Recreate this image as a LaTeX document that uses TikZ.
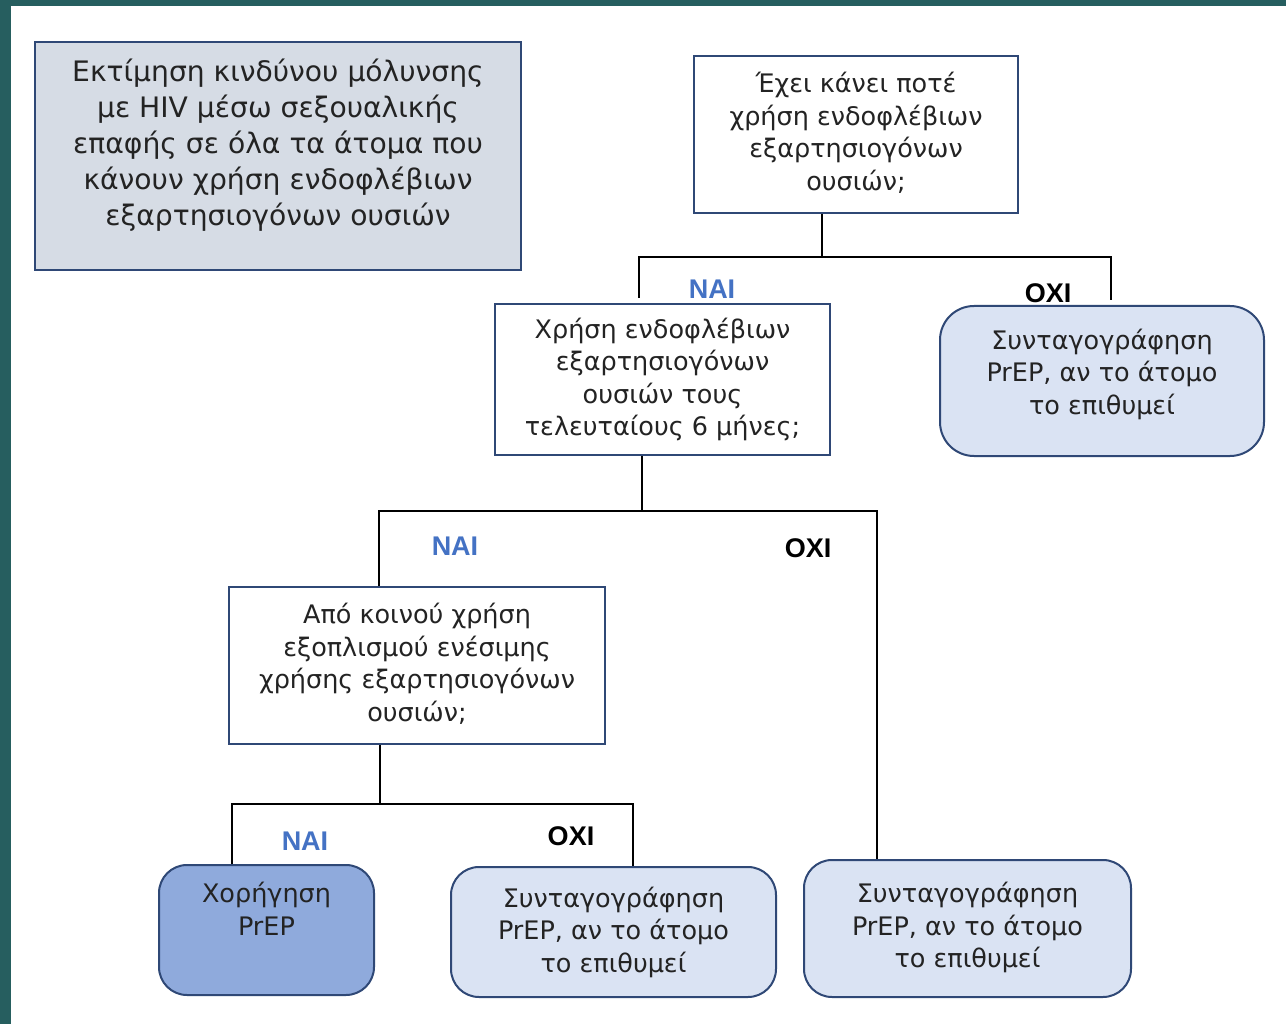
\documentclass[tikz,border=0pt]{standalone}
\usepackage{fontspec}
\setmainfont{DejaVu Sans}
\newfontfamily\lblfont{Liberation Sans}
\definecolor{teal0}{RGB}{38,94,95}
\definecolor{bord}{RGB}{47,72,118}
\definecolor{fillgray}{RGB}{214,220,229}
\definecolor{filllight}{RGB}{218,227,243}
\definecolor{filldark}{RGB}{143,170,220}
\definecolor{naiblue}{RGB}{68,114,196}
\definecolor{txt}{RGB}{35,35,35}
\begin{document}
\begin{tikzpicture}[x=1pt,y=-1pt,
  box/.style={draw=bord,line width=2pt,align=center,text=txt,inner sep=0pt,
    font=\fontsize{25.5}{32.5}\selectfont},
  qbox/.style={box,fill=white},
  rbox/.style={box,fill=filllight,rounded corners=28pt},
  conn/.style={draw=black,line width=2pt},
  nai/.style={text=naiblue,font=\lblfont\bfseries\fontsize{27}{30}\selectfont,inner sep=0pt},
  oxi/.style={text=black,font=\lblfont\bfseries\fontsize{27}{30}\selectfont,inner sep=0pt}]
\useasboundingbox (0,0) rectangle (1286,1024);
\fill[teal0] (0,0) rectangle (1286,1024);
\fill[white] (11,6) rectangle (1286,1024);

\node[box,fill=fillgray,minimum width=486pt,minimum height=228pt,
  font=\fontsize{28.2}{36}\selectfont] (tl) at (278,156)
  {Εκτίμηση κινδύνου μόλυνσης\\με HIV μέσω σεξουαλικής\\επαφής σε όλα τα άτομα που\\κάνουν χρήση ενδοφλέβιων\\εξαρτησιογόνων ουσιών\\[-8pt]};

\node[qbox,minimum width=324pt,minimum height=157pt] (q1) at (856,134.5)
  {Έχει κάνει ποτέ\\χρήση ενδοφλέβιων\\εξαρτησιογόνων\\ουσιών;\\[-26pt]};
\node[qbox,minimum width=335pt,minimum height=151pt] (q2) at (662.5,379.5)
  {Χρήση ενδοφλέβιων\\εξαρτησιογόνων\\ουσιών τους\\τελευταίους 6 μήνες;};
\node[rbox,minimum width=324pt,minimum height=150pt,rounded corners=34pt] (r1) at (1102,381)
  {Συνταγογράφηση\\PrEP, αν το άτομο\\το επιθυμεί\\[-14pt]};
\node[qbox,minimum width=376pt,minimum height=157pt] (q3) at (417,665.5)
  {Από κοινού χρήση\\εξοπλισμού ενέσιμης\\χρήσης εξαρτησιογόνων\\ουσιών;\\[-26pt]};
\node[rbox,fill=filldark,minimum width=215pt,minimum height=130pt] (lb) at (266.5,930)
  {Χορήγηση\\PrEP\\\strut};
\node[rbox,minimum width=325pt,minimum height=130pt] (mb) at (613.5,932)
  {Συνταγογράφηση\\PrEP, αν το άτομο\\το επιθυμεί};
\node[rbox,minimum width=327pt,minimum height=137pt] (r3) at (967.5,928.5)
  {Συνταγογράφηση\\PrEP, αν το άτομο\\το επιθυμεί\\[-26pt]};

% branch 1
\coordinate (j1) at (822,257);
\coordinate (b1l) at (639,298);
\coordinate (b1r) at (1111,300);
\draw[conn] (q1.south -| j1) -- (j1);
\draw[conn] (b1l) -- (b1l |- j1) -- (b1r |- j1) -- (b1r);
\node[nai] (nai1) at (712,289) {NAI};
\node[oxi] (oxi1) at (1048,293) {OXI};

% branch 2
\coordinate (j2) at (642,511);
\coordinate (b2l) at (379,511);
\coordinate (b2r) at (877,511);
\draw[conn] (q2.south -| j2) -- (j2);
\draw[conn] (q3.north -| b2l) -- (b2l) -- (b2r) -- (r3.north -| b2r);
\node[nai] (nai2) at (455,546) {NAI};
\node[oxi] (oxi2) at (808,548) {OXI};

% branch 3
\coordinate (j3) at (380,804);
\coordinate (b3l) at (232,804);
\coordinate (b3r) at (633,804);
\draw[conn] (q3.south -| j3) -- (j3);
\draw[conn] (lb.north -| b3l) -- (b3l) -- (b3r) -- (mb.north -| b3r);
\node[nai] (nai3) at (305,841) {NAI};
\node[oxi] (oxi3) at (571,836) {OXI};
\end{tikzpicture}
\end{document}
